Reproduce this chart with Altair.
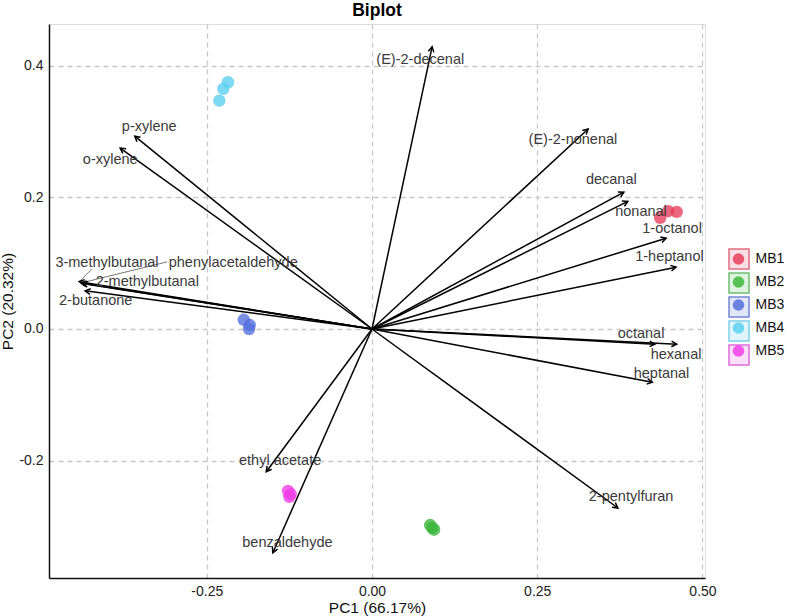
import altair as alt
import pandas as pd
import numpy as np

# ---- sample scores ----
groups = ["MB1", "MB1", "MB1", "MB2", "MB2", "MB2", "MB3", "MB3", "MB3",
          "MB4", "MB4", "MB4", "MB5", "MB5", "MB5"]
pc1 = [0.436, 0.448, 0.461, 0.088, 0.091, 0.094, -0.194, -0.185, -0.186,
       -0.218, -0.225, -0.231, -0.127, -0.123, -0.125]
pc2 = [0.169, 0.179, 0.178, -0.298, -0.302, -0.305, 0.014, 0.006, 0.000,
       0.375, 0.365, 0.347, -0.246, -0.251, -0.255]

group_names = ["MB1", "MB2", "MB3", "MB4", "MB5"]
group_colors = ["#E8405F", "#3DB83D", "#5670DD", "#5CD0F0", "#F03FE6"]
# legend key boxes
box_codes = [1, 2, 3, 4, 5]
box_fill = ["#F9D2DA", "#D3EFD3", "#D6DCF7", "#D5F3FB", "#FBD2F8"]
box_edge = ["#D3304F", "#35A335", "#3A55C4", "#45BEDF", "#D42FCB"]

# ---- variable loadings ----
var_names = ["(E)-2-decenal", "(E)-2-nonenal", "decanal", "nonanal", "1-octanol",
             "1-heptanol", "octanal", "hexanal", "heptanal", "2-pentylfuran",
             "ethyl acetate", "benzaldehyde", "p-xylene", "o-xylene",
             "3-methylbutanal", "phenylacetaldehyde", "2-methylbutanal", "2-butanone"]
load1 = [0.091, 0.327, 0.381, 0.387, 0.445, 0.460, 0.428, 0.461, 0.424, 0.372,
         -0.160, -0.150, -0.359, -0.381, -0.443, -0.440, -0.438, -0.434]
load2 = [0.429, 0.304, 0.208, 0.194, 0.138, 0.094, -0.023, -0.023, -0.081, -0.272,
         -0.217, -0.340, 0.293, 0.275, 0.072, 0.070, 0.069, 0.058]
label_x = [0.073, 0.304, 0.362, 0.407, 0.454, 0.450, 0.407, 0.460, 0.438, 0.392,
           -0.139, -0.128, -0.337, -0.396, -0.401, -0.210, -0.340, -0.418]
label_y = [0.409, 0.287, 0.226, 0.178, 0.152, 0.109, -0.008, -0.040, -0.068, -0.255,
           -0.201, -0.325, 0.307, 0.257, 0.100, 0.100, 0.071, 0.043]

# repel connector segments
seg_names = ["3-methylbutanal", "phenylacetaldehyde"]
seg_x = [-0.424, -0.310]
seg_y = [0.091, 0.102]

x_ticks = [-0.25, 0.0, 0.25, 0.5]
y_ticks = [-0.2, 0.0, 0.2, 0.4]
x_dom = [-0.4887, 0.5038]
y_dom = [-0.3784, 0.4635]

W, H = 656, 554
sx = W / (x_dom[1] - x_dom[0])
sy = H / (y_dom[1] - y_dom[0])

scores = pd.DataFrame({"PC1": pc1, "PC2": pc2, "group": groups})
boxes = pd.DataFrame({"code": box_codes, "PC1": 0.0, "PC2": 0.0})
loads = pd.DataFrame({"name": var_names, "PC1": load1, "PC2": load2,
                      "lx": label_x, "ly": label_y})
loads["o1"] = 0.0
loads["o2"] = 0.0
loads["angle"] = (np.degrees(np.arctan2(loads["PC1"] * sx, loads["PC2"] * sy)) + 360) % 360
segs = pd.DataFrame({"name": seg_names, "sx": seg_x, "sy": seg_y})
segs = segs.merge(loads[["name", "PC1", "PC2"]], on="name")

font = "Liberation Sans"
xs = alt.Scale(domain=x_dom, nice=False, zero=False)
ys = alt.Scale(domain=y_dom, nice=False, zero=False)

xlab = "datum.value < 0 ? '-' + format(-datum.value, '.2f') : format(datum.value, '.2f')"
ylab = "datum.value < 0 ? '-' + format(-datum.value, '.1f') : format(datum.value, '.1f')"

x_axis = alt.Axis(values=x_ticks, labelExpr=xlab, title="PC1 (66.17%)", grid=True,
                  gridDash=[5, 4], gridColor="#c8c8c8", gridWidth=1.3,
                  ticks=False, domainColor="#111", domainWidth=1.5,
                  labelFontSize=14, labelColor="#222", labelPadding=6,
                  titleFontSize=15.5, titleFontWeight="normal", titleColor="#111",
                  titlePadding=2, labelFont=font, titleFont=font)
y_axis = alt.Axis(values=y_ticks, labelExpr=ylab, title="PC2 (20.32%)", grid=True,
                  gridDash=[5, 4], gridColor="#c8c8c8", gridWidth=1.3,
                  ticks=False, domainColor="#111", domainWidth=1.5,
                  labelFontSize=14, labelColor="#222", labelPadding=6,
                  titleFontSize=15.5, titleFontWeight="normal", titleColor="#111",
                  titlePadding=3, labelFont=font, titleFont=font)

box_legend = dict(title=None, orient="none", legendX=679, legendY=224,
                  symbolType="square", symbolSize=400, symbolStrokeWidth=1.5,
                  labelExpr="''", labelFontSize=14, rowPadding=-3, padding=0)

# legend key boxes (no marks drawn)
box_layer = alt.Chart(boxes).mark_square(filled=True, strokeWidth=1.5).encode(
    x=alt.X("PC1:Q", scale=xs),
    y=alt.Y("PC2:Q", scale=ys),
    fill=alt.Fill("code:N", scale=alt.Scale(domain=box_codes, range=box_fill),
                  legend=alt.Legend(**box_legend)),
    stroke=alt.Stroke("code:N", scale=alt.Scale(domain=box_codes, range=box_edge),
                      legend=alt.Legend(**box_legend)),
).transform_filter("false")

points = alt.Chart(scores).mark_circle(size=155, opacity=0.8).encode(
    x=alt.X("PC1:Q", scale=xs, axis=x_axis),
    y=alt.Y("PC2:Q", scale=ys, axis=y_axis),
    color=alt.Color("group:N",
                    scale=alt.Scale(domain=group_names, range=group_colors),
                    legend=alt.Legend(title=None, orient="none", legendX=682.5, legendY=228,
                                      symbolType="circle", symbolSize=135,
                                      symbolOpacity=0.85, labelFontSize=14,
                                      labelFont=font, labelColor="#111",
                                      rowPadding=9, padding=0, labelOffset=10)),
)

connectors = alt.Chart(segs).mark_rule(color="#777", strokeWidth=1).encode(
    x=alt.X("sx:Q", scale=xs), y=alt.Y("sy:Q", scale=ys),
    x2="PC1:Q", y2="PC2:Q",
)

shafts = alt.Chart(loads).mark_rule(color="black", strokeWidth=1.5).encode(
    x=alt.X("o1:Q", scale=xs), y=alt.Y("o2:Q", scale=ys),
    x2="PC1:Q", y2="PC2:Q",
)

heads = alt.Chart(loads).mark_point(
    shape="M -0.6 1.1 L 0 0 L 0.6 1.1", filled=False, color="black",
    strokeWidth=1.5, size=90, opacity=1,
).encode(
    x=alt.X("PC1:Q", scale=xs), y=alt.Y("PC2:Q", scale=ys),
    angle=alt.Angle("angle:Q", scale=None),
)

labels = alt.Chart(loads).mark_text(
    fontSize=14.5, font=font, color="#3a3a3a", baseline="middle", align="center"
).encode(
    x=alt.X("lx:Q", scale=xs), y=alt.Y("ly:Q", scale=ys), text="name:N",
)

chart = alt.layer(box_layer, points, connectors, shafts, heads, labels).properties(
    width=W, height=H,
    title=alt.TitleParams("Biplot", fontSize=17.5, fontWeight="bold", font=font,
                          anchor="middle", offset=5, color="#000"),
    autosize=alt.AutoSizeParams(type="none"),
    padding={"left": 49, "top": 24, "right": 82, "bottom": 38},
).configure_view(stroke="#555", strokeWidth=1.5).configure(background="white")

chart.save("out.html", embed_options={"renderer": "svg", "actions": False})
